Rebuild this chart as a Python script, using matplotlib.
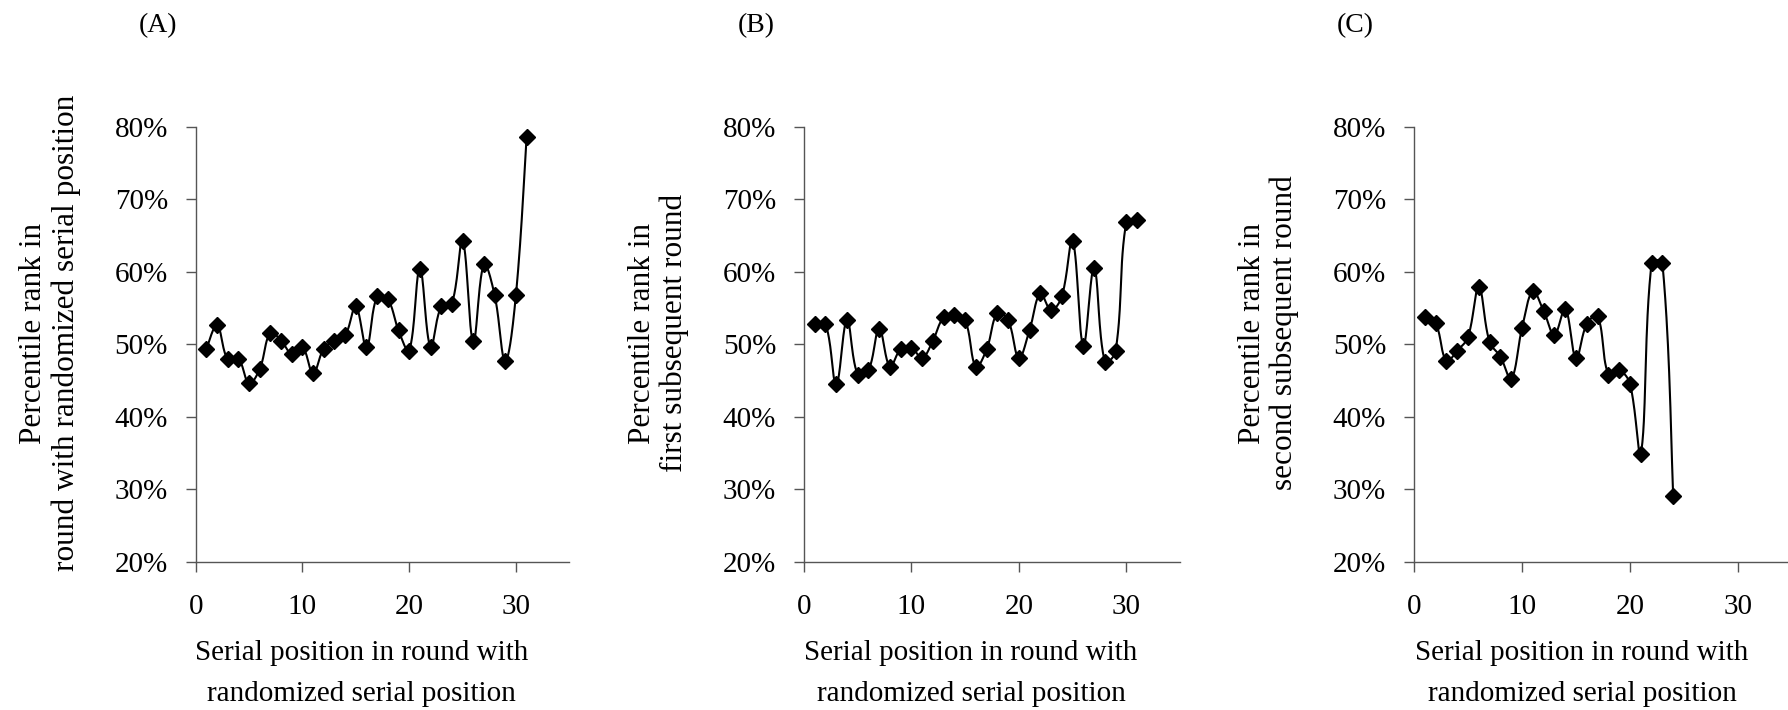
import numpy as np
import matplotlib
matplotlib.use("Agg")
import matplotlib.pyplot as plt
from matplotlib.ticker import FuncFormatter

plt.rcParams['font.family'] = ['Liberation Serif', 'DejaVu Serif']

pos_a = list(range(1, 32))
rank_a = [49.3, 52.6, 47.9, 48.0, 44.6, 46.6, 51.6, 50.5, 48.7, 49.6,
          46.0, 49.4, 50.5, 51.2, 55.2, 49.6, 56.6, 56.2, 51.9, 49.1,
          60.4, 49.6, 55.2, 55.6, 64.3, 50.4, 61.0, 56.8, 47.7, 56.8, 78.6]

pos_b = list(range(1, 32))
rank_b = [52.8, 52.8, 44.5, 53.3, 45.8, 46.4, 52.1, 46.9, 49.3, 49.5,
          48.1, 50.5, 53.7, 54.0, 53.3, 46.9, 49.3, 54.3, 53.3, 48.1,
          52.0, 57.0, 54.7, 56.6, 64.3, 49.8, 60.5, 47.6, 49.0, 66.9, 67.1]

pos_c = list(range(1, 25))
rank_c = [53.8, 52.9, 47.7, 49.1, 51.0, 57.9, 50.3, 48.3, 45.2, 52.2,
          57.3, 54.6, 51.3, 54.9, 48.1, 52.8, 53.9, 45.8, 46.4, 44.5,
          34.8, 61.2, 61.2, 29.1]

panel_titles = ["(A)", "(B)", "(C)"]
y_labels = ["Percentile rank in\nround with randomized serial position",
            "Percentile rank in\nfirst subsequent round",
            "Percentile rank in\nsecond subsequent round"]
x_label = "Serial position in round with\nrandomized serial position"
y_ticks = [20, 30, 40, 50, 60, 70, 80]
x_ticks = [0, 10, 20, 30]


def smooth(x, y, sx, sy, f=0.38, n=30):
    """Excel-like smoothed line: Bezier segments, tangents scaled by the
    ratio of neighbouring segment lengths in screen space."""
    P = np.column_stack([np.asarray(x, float) * sx, np.asarray(y, float) * sy])
    m = len(P)
    L = np.hypot(*(np.diff(P, axis=0).T))
    T = np.zeros_like(P)
    for i in range(m):
        a = P[max(i - 1, 0)]
        b = P[min(i + 1, m - 1)]
        T[i] = b - a
    t = np.linspace(0, 1, n)[:, None]
    out = []
    for i in range(m - 1):
        p1, p2 = P[i], P[i + 1]
        Lprev = L[i - 1] if i > 0 else 0.0
        Lnext = L[i + 1] if i + 1 < m - 1 else 0.0
        r1 = L[i] / (Lprev + L[i]) if i > 0 else 0.5
        r2 = L[i] / (L[i] + Lnext) if i + 1 < m - 1 else 0.5
        c1 = p1 + T[i] * f * r1
        c2 = p2 - T[i + 1] * f * r2
        B = (1 - t) ** 3 * p1 + 3 * (1 - t) ** 2 * t * c1 + 3 * (1 - t) * t ** 2 * c2 + t ** 3 * p2
        out.append(B)
    out = np.vstack(out)
    return out[:, 0] / sx, out[:, 1] / sy


W, H = 1788, 710
ax_bottom_px = 148.3
ax_h_px = 435
ax_lefts = [195.7, 804, 1414]
ax_widths = [373.6, 376, 378]
title_x = [158, 756, 1355]

data = [(pos_a, rank_a), (pos_b, rank_b), (pos_c, rank_c)]

fig = plt.figure(figsize=(W / 100, H / 100), dpi=100)

for i, (xs, ys) in enumerate(data):
    ax = fig.add_axes([ax_lefts[i] / W, ax_bottom_px / H, ax_widths[i] / W, ax_h_px / H])
    px_per_x = ax_widths[i] / 35
    px_per_y = ax_h_px / 60
    sxv, syv = smooth(xs, ys, px_per_x, px_per_y)
    ax.plot(sxv, syv, color='black', lw=1.5, zorder=2, solid_joinstyle='round')
    ax.plot(xs, ys, linestyle='none', marker='D', ms=8.5, color='black', zorder=3)
    ax.set_xlim(0, 35)
    ax.set_ylim(20, 80)
    ax.set_yticks(y_ticks)
    ax.set_xticks(x_ticks)
    ax.yaxis.set_major_formatter(FuncFormatter(lambda v, p: f"{int(round(v))}%"))
    for s in ['top', 'right']:
        ax.spines[s].set_visible(False)
    for s in ['left', 'bottom']:
        ax.spines[s].set_color('#555555')
        ax.spines[s].set_linewidth(1.0)
    ax.tick_params(axis='both', direction='out', length=7, width=1.0,
                   color='#555555', labelsize=21)
    ax.tick_params(axis='y', pad=13)
    ax.tick_params(axis='x', pad=16)
    ax.set_xlabel(x_label, fontsize=21, linespacing=1.75)
    ax.xaxis.set_label_coords(0.5 - 21 / ax_widths[i], -0.179)
    ax.xaxis.label.set_verticalalignment('top')
    fig.text((ax_lefts[i] - 145.7) / W, 1 - 333 / H, y_labels[i],
             rotation=90, ha='center', va='center', fontsize=22.5, linespacing=1.12)
    fig.text(title_x[i] / W, 1 - 26 / H, panel_titles[i], ha='center', va='center',
             fontsize=20)

fig.savefig("out.png", dpi=100)
